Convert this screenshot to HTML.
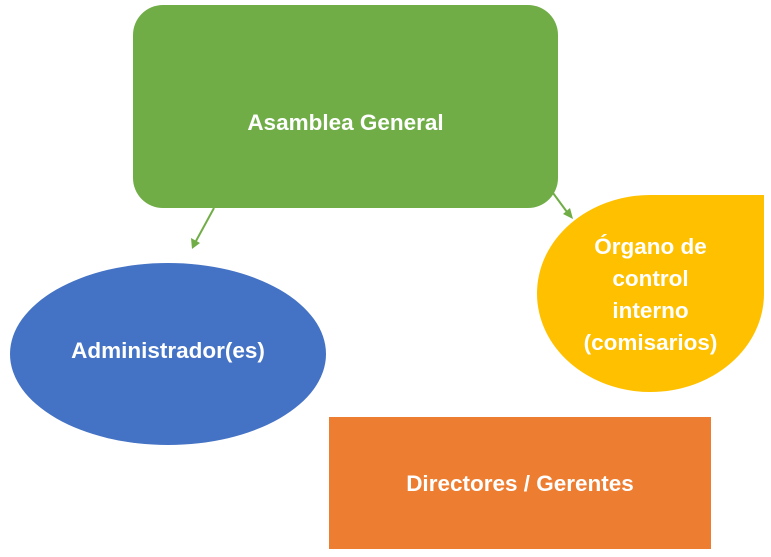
<!DOCTYPE html>
<html><head><meta charset="utf-8"><style>
html,body{margin:0;padding:0;background:#fff;width:771px;height:557px;overflow:hidden;position:relative;font-family:"Liberation Sans",sans-serif;}
.s{position:absolute;display:flex;align-items:center;justify-content:center;text-align:center;color:#fff;font-weight:bold;font-size:22.5px;box-sizing:border-box;}
</style></head><body>
<div class="s" style="left:133px;top:5px;width:425px;height:203px;background:#70ad47;border-radius:30px;padding-top:32px;">Asamblea General</div>
<div class="s" style="left:10px;top:263px;width:316px;height:182px;background:#4472c4;border-radius:50%;padding-bottom:6px;">Administrador(es)</div>
<div class="s" style="left:537px;top:195px;width:227px;height:197px;background:#ffc000;border-radius:50% 0 50% 50%;line-height:32px;padding-top:2px;">Órgano de<br>control<br>interno<br>(comisarios)</div>
<div class="s" style="left:329px;top:417px;width:382px;height:132px;background:#ed7d31;padding-top:2px;">Directores / Gerentes</div>
<svg width="771" height="557" style="position:absolute;left:0;top:0">
<g stroke="#70ad47" stroke-width="2" fill="#70ad47">
<line x1="214" y1="208" x2="196" y2="241"/>
<polygon points="192,249 191,238 200,243" stroke="none"/>
<line x1="553" y1="193" x2="567" y2="212"/>
<polygon points="573,219 563,214 570,208" stroke="none"/>
</g>
</svg>
</body></html>
